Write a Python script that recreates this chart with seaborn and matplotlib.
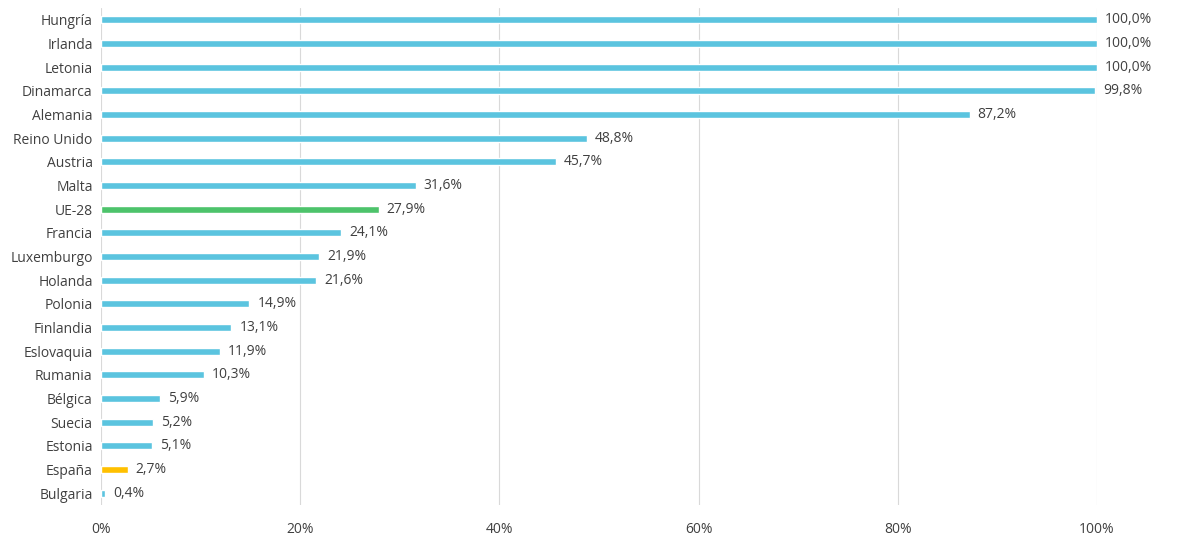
import matplotlib
matplotlib.use("Agg")
import matplotlib.pyplot as plt
import seaborn as sns
import pandas as pd
from matplotlib.ticker import FuncFormatter

countries = ["Hungría","Irlanda","Letonia","Dinamarca","Alemania","Reino Unido","Austria","Malta","UE-28","Francia","Luxemburgo","Holanda","Polonia","Finlandia","Eslovaquia","Rumania","Bélgica","Suecia","Estonia","España","Bulgaria"]
values = [100.0,100.0,100.0,99.8,87.2,48.8,45.7,31.6,27.9,24.1,21.9,21.6,14.9,13.1,11.9,10.3,5.9,5.2,5.1,2.7,0.4]
special = {"UE-28": "#4DC36B", "España": "#FFC000"}
base = "#5BC4DF"

sns.set_theme(style="white")
plt.rcParams['font.family'] = ['Open Sans', 'DejaVu Sans']

df = pd.DataFrame({"country": countries, "value": values})
palette = {c: special.get(c, base) for c in countries}

fig = plt.figure(figsize=(11.8, 5.41), dpi=100)
ax = fig.add_axes([0.0856, 0.0665, 0.8441, 0.9185])
sns.barplot(data=df, x="value", y="country", hue="country", palette=palette,
            order=countries, width=0.3, legend=False, ax=ax, saturation=1)
ax.set_xlim(0, 100)
ax.set_ylim(20.5, -0.5)
ax.set_xticks([0, 20, 40, 60, 80, 100])
ax.xaxis.set_major_formatter(FuncFormatter(lambda v, p: f"{int(v)}%"))
ax.grid(axis="x", color="#D9D9D9", linewidth=0.8)
ax.set_axisbelow(True)
for s in ax.spines.values():
    s.set_visible(False)
ax.set_xlabel(""); ax.set_ylabel("")
ax.tick_params(axis="both", length=0, labelsize=10, colors="#404040", pad=6)
ax.tick_params(axis="x", pad=12)
for i, v in enumerate(values):
    ax.text(v + 0.8, i, f"{v:.1f}%".replace(".", ","), va="center", ha="left",
            fontsize=10, color="#404040")
fig.savefig("out.png", dpi=100)
